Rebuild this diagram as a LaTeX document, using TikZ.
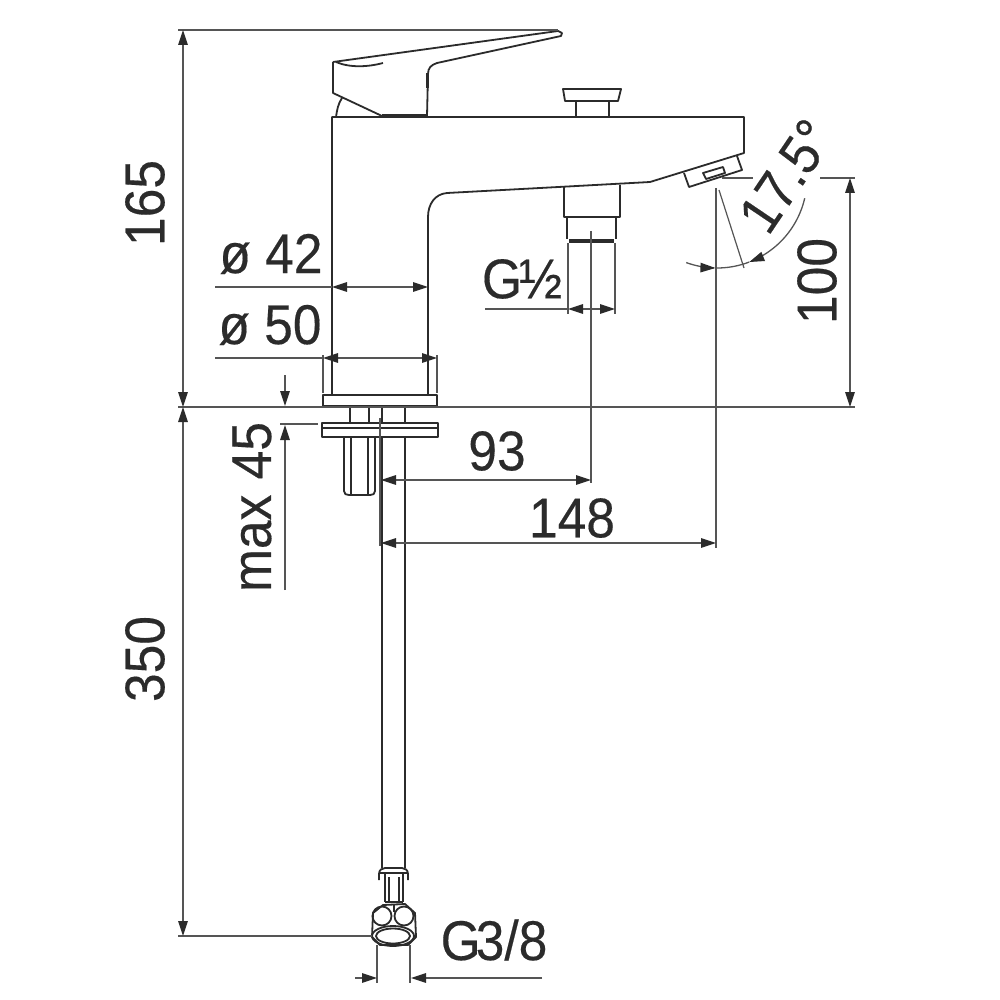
\documentclass[tikz,border=0pt]{standalone}
\usepackage{fontspec}
\usetikzlibrary{arrows.meta}
\setmainfont[FakeStretch=0.92,FakeBold=0.3]{Liberation Sans}
\definecolor{ink}{HTML}{2B2B2B}
\definecolor{dimc}{HTML}{555555}
\tikzset{
 part/.style={draw=ink,line width=1.8pt,line join=round},
 thick part/.style={draw=ink,line width=3pt},
 dimline/.style={draw=dimc,line width=1.3pt,>={Triangle[length=15pt,width=9.5pt,color=ink]}},
 extline/.style={draw=dimc,line width=1.2pt},
 dima/.style={dimline,<->},
 lab/.style={font=\fontsize{56}{56}\selectfont,text=ink,inner sep=0pt}
}
\begin{document}
\begin{tikzpicture}[x=1pt,y=-1pt]
\useasboundingbox (0,0) rectangle (1000,1000);
\fill[white] (0,0) rectangle (1000,1000);
% handle
\path[part] (333,62) -- (558,31) -- (562,33) -- (561,36) -- (437,63) .. controls (431,65) and (428,68) .. (428,74) -- (427,116);
\path[part] (333,62) -- (333,93) -- (382,116);
\path[part] (336,62) .. controls (350,68) and (368,67) .. (383,63);
\path[part] (342,98) .. controls (338,104) and (337,110) .. (336,117);
\path[thick part] (382,116) -- (427,116);
\path[thick part] (427,73) -- (427,88);
% body
\path[part] (332,395) -- (332,117) -- (744,117) -- (744,153) -- (650,182) -- (540,188) -- (447,193) .. controls (435,194) and (428,204) .. (428,217) -- (428,395);
% button
\path[part] (563,89) -- (621,89) -- (618,101) -- (565,101) -- cycle;
\path[part] (576,101) -- (576,117);
\path[part] (609,101) -- (609,117);
% outlet
\path[part] (564,187) -- (564,217) -- (620,217) -- (620,185);
\path[part] (567,217) -- (567,239);
\path[part] (616,217) -- (616,239);
\path[thick part,line width=4pt] (569,241) -- (614,241);
% aerator
\path[part] (684,173) -- (689,187) -- (742,170) -- (737,156);
\path[part] (703,173) -- (706,179) -- (725,173) -- (723,167) -- cycle;
% flanges
\path[part,line width=2pt] (323,395) rectangle (437,406);
\foreach \xx in {350,369,382,405} \path[part] (\xx,407) -- (\xx,423);
\path[part,line width=2pt] (322,423) rectangle (438,437);
\path[part] (322,428) -- (438,428);
% stud
\path[part] (344,437) -- (344,491) .. controls (344,494) and (346,495) .. (349,495) -- (370,495) .. controls (373,495) and (375,494) .. (375,491) -- (375,437);
\path[part] (351,437) -- (351,494);
\path[part] (368,437) -- (368,494);
% hose
\path[part] (382,437) -- (382,868);
\path[part] (405,437) -- (405,868);
% hose fitting
\path[part] (379,880) -- (379,874) .. controls (379,870) and (382,868) .. (385,868) -- (402,868) .. controls (405,868) and (408,870) .. (408,874) -- (408,880);
\path[part] (380,873) -- (407,873);
\path[part] (385,874) -- (385,902);
\path[part] (403,874) -- (403,902);
\path[part] (389,877) -- (389,902);
\path[part] (399,877) -- (399,902);
\path[part] (385,902) -- (403,902);
\path[part] (373,913) -- (383,905) -- (405,904) -- (415,913) -- (416,937) -- (408,945) -- (380,945) -- (372,937) -- cycle;
\path[part] (382,916) circle[radius=9.5];
\path[part] (404,916) circle[radius=9.5];
\path[part] (394,905) -- (394,912);
\path[part] (393,936) ellipse[x radius=21,y radius=10];
\path[part] (393,936) ellipse[x radius=17,y radius=7.5];
% extension lines
\path[extline] (178,30) -- (558,30);
\path[extline] (178,407) -- (855,407);
\path[extline] (178,936) -- (372,936);
\path[extline] (215,287) -- (332,287);
\path[extline] (215,358) -- (323,358);
\path[extline] (323,355) -- (323,393);
\path[extline] (437,355) -- (437,393);
\path[extline] (485,309) -- (568,309);
\path[extline] (568,243) -- (568,314);
\path[extline] (615,243) -- (615,314);
\path[extline] (591,231) -- (591,483);
\path[extline] (380,418) -- (380,546);
\path[extline] (716,188) -- (716,548);
\path[extline] (719,190) -- (744,268);
\path[extline] (722,178) -- (753,178);
\path[extline] (820,178) -- (855,178);
\path[extline] (280,424) -- (318,424);
\path[extline] (377,945) -- (377,983);
\path[extline] (410,945) -- (410,983);
% dimensions
\path[dima] (183,30) -- (183,407);
\path[dima] (183,407) -- (183,936);
\path[dima] (332,287) -- (428,287);
\path[dima] (323,358) -- (437,358);
\path[dima] (568,309) -- (615,309);
\path[dima] (381,480) -- (591,480);
\path[dima] (381,543) -- (716,543);
\path[dima] (850,178) -- (850,407);
\path[dimline,->] (285,375) -- (285,406);
\path[dimline,->] (285,590) -- (285,425);
\path[dimline,->] (355,978) -- (377,978);
\path[dimline,->] (542,978) -- (411,978);
% angle
\path[dimline,->] plot[domain=13:69,samples=40] ({717+90*cos(\x)},{178+90*sin(\x)});
\path[dimline,->] plot[domain=110:91,samples=20] ({717+90*cos(\x)},{178+90*sin(\x)});
\path[dimline] plot[domain=69:91,samples=20] ({717+90*cos(\x)},{178+90*sin(\x)});
% labels
\node[lab,rotate=90] (t165) at (145,203) {165};
\node[lab,rotate=90] (t350) at (145,659) {350};
\node[lab,rotate=90] (t100) at (817,281) {100};
\node[lab,rotate=90] (tmax) at (252,507) {max\kern1pt\ 45};
\node[lab,rotate=56] (tang) at (786,176) {17.5°};
\node[lab] (t42) at (271,254) {ø 42};
\node[lab] (t50) at (270,325) {ø 50};
\node[lab] (tg12) at (522,279) {G\kern-3pt ½};
\node[lab] (t93) at (497,451) {93};
\node[lab] (t148) at (572,518) {148};
\node[lab] (tg38) at (494,940) {G\kern-5pt 3/8};
\end{tikzpicture}
\end{document}
